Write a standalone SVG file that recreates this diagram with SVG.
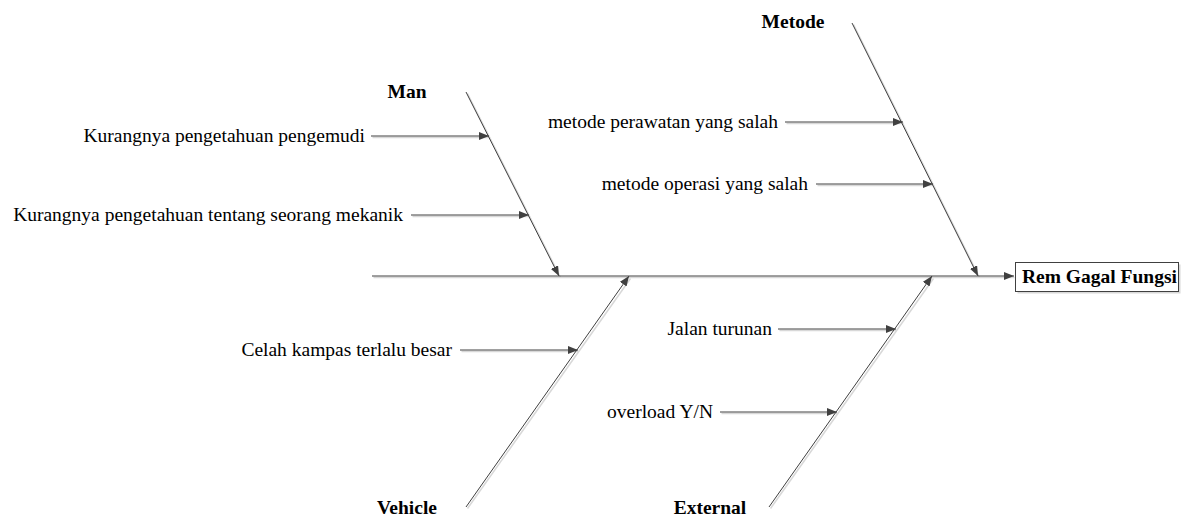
<svg xmlns="http://www.w3.org/2000/svg" width="1183" height="516" viewBox="0 0 1183 516">
<style>
.ln{stroke:#404040;stroke-width:1;fill:none}
.sh{stroke:#d8d8d8;stroke-width:1.5;fill:none}
.t{font-family:"Liberation Serif","Times New Roman",serif;font-size:19.5px;fill:#000}
.b{font-weight:bold}
</style>
<defs>
<marker id="ah" markerWidth="10" markerHeight="8" refX="10" refY="4" orient="auto" markerUnits="userSpaceOnUse">
<path d="M0,0 L10,4 L0,8 Z" fill="#404040"/>
</marker>
</defs>
<rect width="1183" height="516" fill="#fff"/>
<g id="connectors">
<g transform="translate(1.5,1.5)">
<line class="sh" x1="372" y1="276" x2="1013" y2="276"/>
<line class="sh" x1="466" y1="92" x2="559" y2="276"/>
<line class="sh" x1="852" y1="23" x2="978" y2="276"/>
<line class="sh" x1="466" y1="507" x2="629" y2="277"/>
<line class="sh" x1="769" y1="507" x2="932" y2="277"/>
<line class="sh" x1="371" y1="136" x2="488" y2="136"/>
<line class="sh" x1="411" y1="215" x2="528" y2="215"/>
<line class="sh" x1="785" y1="122" x2="902" y2="122"/>
<line class="sh" x1="816" y1="184" x2="932" y2="184"/>
<line class="sh" x1="460" y1="350" x2="577" y2="350"/>
<line class="sh" x1="778" y1="329" x2="895" y2="329"/>
<line class="sh" x1="720" y1="412" x2="836" y2="412"/>
</g>
<line class="ln" x1="372" y1="276" x2="1014" y2="276" marker-end="url(#ah)"/>
<line class="ln" x1="466" y1="92" x2="559" y2="276" marker-end="url(#ah)"/>
<line class="ln" x1="852" y1="23" x2="978" y2="276" marker-end="url(#ah)"/>
<line class="ln" x1="466" y1="507" x2="629" y2="276" marker-end="url(#ah)"/>
<line class="ln" x1="769" y1="507" x2="932" y2="276" marker-end="url(#ah)"/>
<line class="ln" x1="371" y1="136" x2="489" y2="136" marker-end="url(#ah)"/>
<line class="ln" x1="411" y1="215" x2="529" y2="215" marker-end="url(#ah)"/>
<line class="ln" x1="785" y1="122" x2="903" y2="122" marker-end="url(#ah)"/>
<line class="ln" x1="816" y1="184" x2="933" y2="184" marker-end="url(#ah)"/>
<line class="ln" x1="460" y1="350" x2="578" y2="350" marker-end="url(#ah)"/>
<line class="ln" x1="778" y1="329" x2="896" y2="329" marker-end="url(#ah)"/>
<line class="ln" x1="720" y1="412" x2="837" y2="412" marker-end="url(#ah)"/>
</g>
<g id="effect">
<rect x="1017.5" y="264.5" width="163" height="29" fill="#d8d8d8"/>
<rect x="1015.5" y="262.5" width="163" height="29" fill="#fff" stroke="#404040" stroke-width="1"/>
<text class="t b" x="1022" y="283" textLength="155" lengthAdjust="spacingAndGlyphs">Rem Gagal Fungsi</text>
</g>
<g id="man"><text class="t b" x="407" y="98" text-anchor="middle">Man</text></g>
<g id="metode"><text class="t b" x="793" y="28" text-anchor="middle">Metode</text></g>
<g id="vehicle"><text class="t b" x="407" y="514" text-anchor="middle">Vehicle</text></g>
<g id="external"><text class="t b" x="710" y="514" text-anchor="middle">External</text></g>
<g id="c1"><text class="t" x="365" y="142" text-anchor="end">Kurangnya pengetahuan pengemudi</text></g>
<g id="c2"><text class="t" x="403" y="221" text-anchor="end">Kurangnya pengetahuan tentang seorang mekanik</text></g>
<g id="c3"><text class="t" x="778" y="128" text-anchor="end">metode perawatan yang salah</text></g>
<g id="c4"><text class="t" x="808" y="190" text-anchor="end">metode operasi yang salah</text></g>
<g id="c5"><text class="t" x="452" y="356" text-anchor="end">Celah kampas terlalu besar</text></g>
<g id="c6"><text class="t" x="772" y="335" text-anchor="end">Jalan turunan</text></g>
<g id="c7"><text class="t" x="713" y="418" text-anchor="end">overload Y/N</text></g>
</svg>
